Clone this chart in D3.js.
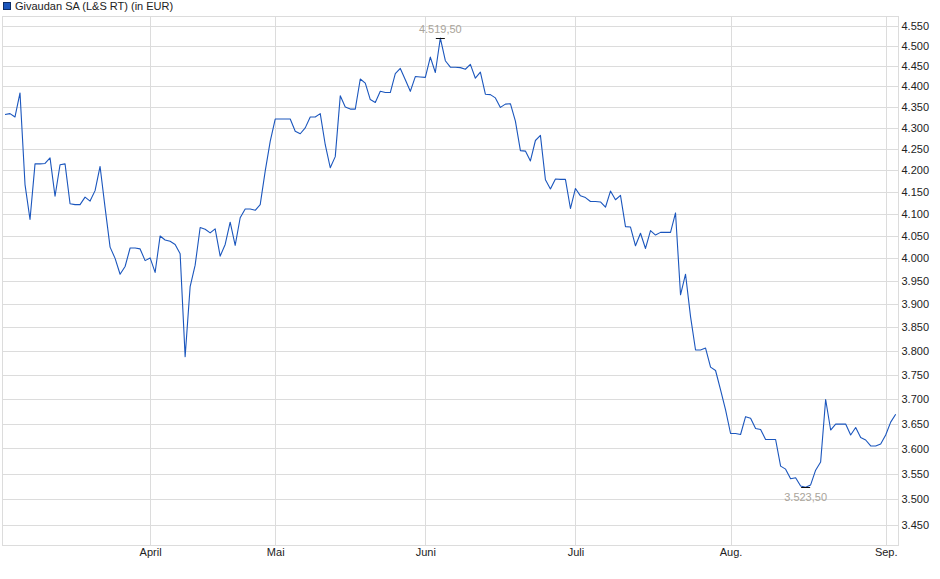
<!DOCTYPE html>
<html>
<head>
<meta charset="utf-8">
<script src="https://cdn.jsdelivr.net/npm/d3@7"></script>
<style>
  html, body { margin: 0; padding: 0; background: #fff; }
  svg { display: block; font-family: "Liberation Sans", Arial, sans-serif; }
</style>
</head>
<body>
<svg id="chart" width="940" height="579"></svg>
<script>
const title = "Givaudan SA (L&S RT) (in EUR)";
const monthLabels = ["April", "Mai", "Juni", "Juli", "Aug.", "Sep."];
const monthIndex = [29, 54, 84, 114, 145, 176];
const yTicks = [3450, 3500, 3550, 3600, 3650, 3700, 3750, 3800, 3850, 3900, 3950, 4000,
                4050, 4100, 4150, 4200, 4250, 4300, 4350, 4400, 4450, 4500, 4550];
const prices = [
  4332, 4334, 4326, 4384, 4167, 4087, 4215, 4215, 4216, 4229,
  4140, 4213, 4215, 4123, 4121, 4121, 4138, 4129, 4153, 4209,
  4114, 4025, 4000, 3965, 3982, 4023, 4023, 4021, 3995, 4001,
  3969, 4050, 4041, 4038, 4031, 4010, 3788, 3938, 3985, 4069,
  4065, 4057, 4066, 4005, 4031, 4081, 4029, 4091, 4111, 4111,
  4108, 4121, 4198, 4268, 4321, 4321, 4321, 4321, 4292, 4286,
  4300, 4326, 4326, 4334, 4260, 4206, 4232, 4377, 4350, 4345,
  4345, 4418, 4408, 4368, 4361, 4388, 4385, 4385, 4431, 4444,
  4416, 4388, 4424, 4423, 4422, 4472, 4434, 4519.5, 4463, 4447,
  4447, 4446, 4442, 4454, 4420, 4435, 4381, 4380, 4372, 4349,
  4357, 4358, 4316, 4246, 4245, 4222, 4270, 4282, 4178, 4157,
  4180, 4179, 4179, 4112, 4158, 4141, 4137, 4128, 4128, 4127,
  4115, 4152, 4132, 4142, 4071, 4070, 4028, 4056, 4022, 4062,
  4052, 4058, 4058, 4058, 4102, 3920, 3965, 3873, 3802, 3802,
  3806, 3766, 3759, 3719, 3678, 3630, 3630, 3628, 3664, 3661,
  3640, 3638, 3618, 3618, 3618, 3565, 3559, 3540, 3542, 3526,
  3523.5, 3528, 3557, 3573, 3699, 3637, 3649, 3649, 3649, 3627,
  3642, 3622, 3617, 3605, 3605, 3609, 3627, 3653, 3669
];

const fmt = d3.formatLocale({decimal: ",", thousands: ".", grouping: [3], currency: ["", "€"]});
const fmtInt = fmt.format(",");
const fmtDec = fmt.format(",.2f");

const svg = d3.select("#chart");
const frame = {left: 2.5, right: 898.5, top: 16.5, bottom: 545.5};

const x = d3.scaleLinear().domain([0, prices.length - 1]).range([5, 895.7]);
const y = d3.scaleLog().domain([3412.5, 4575]).range([545, 16]);

const gridColor = "#dcdcdc";

// horizontal gridlines
svg.append("g").selectAll("line").data(yTicks).join("line")
  .attr("x1", frame.left).attr("x2", frame.right)
  .attr("y1", d => Math.round(y(d)) + 0.5).attr("y2", d => Math.round(y(d)) + 0.5)
  .attr("stroke", gridColor).attr("stroke-width", 1);

// vertical gridlines
svg.append("g").selectAll("line").data(monthIndex).join("line")
  .attr("x1", d => Math.round(x(d)) + 0.5).attr("x2", d => Math.round(x(d)) + 0.5)
  .attr("y1", frame.top).attr("y2", frame.bottom)
  .attr("stroke", gridColor).attr("stroke-width", 1);

// frame
svg.append("rect")
  .attr("x", frame.left).attr("y", frame.top)
  .attr("width", frame.right - frame.left).attr("height", frame.bottom - frame.top)
  .attr("fill", "none").attr("stroke", gridColor).attr("stroke-width", 1);

// y axis (right)
const yAxis = d3.axisRight(y).tickValues(yTicks).tickFormat(d => fmtInt(d)).tickSize(0).tickPadding(3);
const gy = svg.append("g").attr("transform", `translate(${frame.right},0)`).call(yAxis);
gy.select(".domain").remove();
gy.selectAll("text").attr("font-size", 11).attr("fill", "#222")
  .attr("font-family", "'Liberation Sans', Arial, sans-serif");

// x axis
const xAxis = d3.axisBottom(x).tickValues(monthIndex).tickFormat((d, i) => monthLabels[i]).tickSize(0).tickPadding(3);
const gx = svg.append("g").attr("transform", `translate(0,${frame.bottom})`).call(xAxis);
gx.select(".domain").remove();
gx.selectAll("text").attr("font-size", 11).attr("fill", "#222")
  .attr("font-family", "'Liberation Sans', Arial, sans-serif");

// price line
const line = d3.line().x((d, i) => x(i)).y(d => y(d));
svg.append("path").datum(prices)
  .attr("d", line).attr("fill", "none")
  .attr("stroke", "#1b56bd").attr("stroke-width", 1.1).attr("stroke-linejoin", "round");

// high / low markers
const maxV = d3.max(prices), minV = d3.min(prices);
const maxI = prices.indexOf(maxV), minI = prices.indexOf(minV);
const markers = [
  {i: maxI, v: maxV, dy: -5},
  {i: minI, v: minV, dy: 14}
];
const mg = svg.append("g");
mg.selectAll("line").data(markers).join("line")
  .attr("x1", d => x(d.i) - 4.5).attr("x2", d => x(d.i) + 4.5)
  .attr("y1", d => Math.round(y(d.v)) + 0.5).attr("y2", d => Math.round(y(d.v)) + 0.5)
  .attr("stroke", "#111").attr("stroke-width", 1);
mg.selectAll("text").data(markers).join("text")
  .attr("x", d => x(d.i)).attr("y", d => y(d.v) + d.dy)
  .attr("text-anchor", "middle").attr("font-size", 11).attr("fill", "#a9a49a")
  .text(d => fmtDec(d.v));

// legend
svg.append("rect").attr("x", 3.5).attr("y", 2.5).attr("width", 7).attr("height", 7)
  .attr("fill", "#1b56bd").attr("stroke", "#0d2c66").attr("stroke-width", 1);
svg.append("text").attr("x", 15).attr("y", 10).attr("font-size", 11).attr("fill", "#222")
  .text(title);
</script>
</body>
</html>
